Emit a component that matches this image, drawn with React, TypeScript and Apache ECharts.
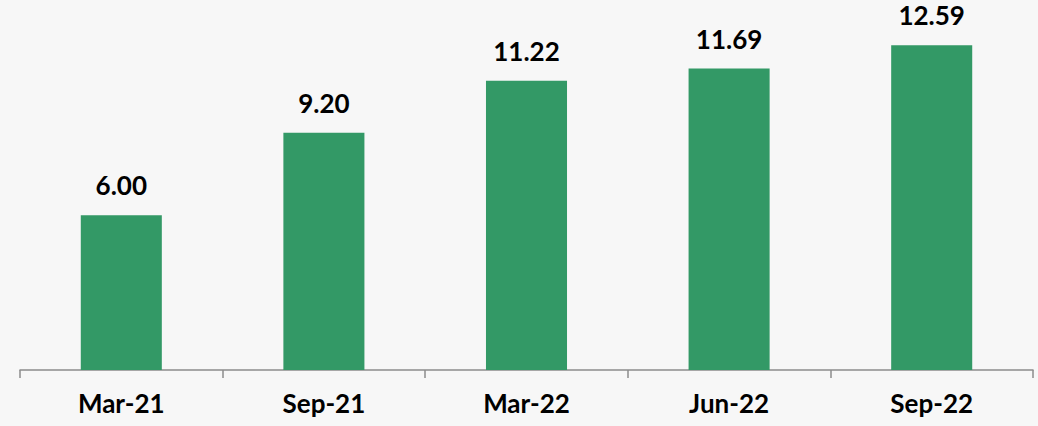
import React, { useEffect, useRef } from "react";
import * as echarts from "echarts";

const categories = ["Mar-21", "Sep-21", "Mar-22", "Jun-22", "Sep-22"];
const values = [6.0, 9.2, 11.22, 11.69, 12.59];

export default function App() {
  const ref = useRef<HTMLDivElement>(null);
  useEffect(() => {
    if (!ref.current) return;
    const chart = echarts.init(ref.current, undefined, { renderer: "svg" });
    chart.setOption({
      animation: false,
      backgroundColor: "#f7f7f7",
      grid: { left: 20, right: 5, top: 9, bottom: 56 },
      xAxis: {
        type: "category",
        data: categories,
        axisLine: { lineStyle: { color: "#8c8c8c", width: 1.5 } },
        axisTick: { show: true, length: 8, lineStyle: { color: "#8c8c8c", width: 1.5 } },
        axisLabel: {
          color: "#000",
          fontFamily: "Lato",
          fontWeight: "bold",
          fontSize: 26,
          margin: 20,
        },
      },
      yAxis: {
        type: "value",
        min: 0,
        max: 14,
        show: false,
        splitLine: { show: false },
      },
      series: [
        {
          type: "bar",
          data: values,
          barWidth: "40%",
          itemStyle: { color: "#339966" },
          label: {
            show: true,
            position: "top",
            distance: 17,
            formatter: (p: any) => Number(p.value).toFixed(2),
            color: "#000",
            fontFamily: "Lato",
            fontWeight: "bold",
            fontSize: 26,
          },
        },
      ],
    });
    return () => chart.dispose();
  }, []);
  return (
    <div
      ref={ref}
      style={{ position: "fixed", left: 0, top: 0, width: 1038, height: 426 }}
    />
  );
}
